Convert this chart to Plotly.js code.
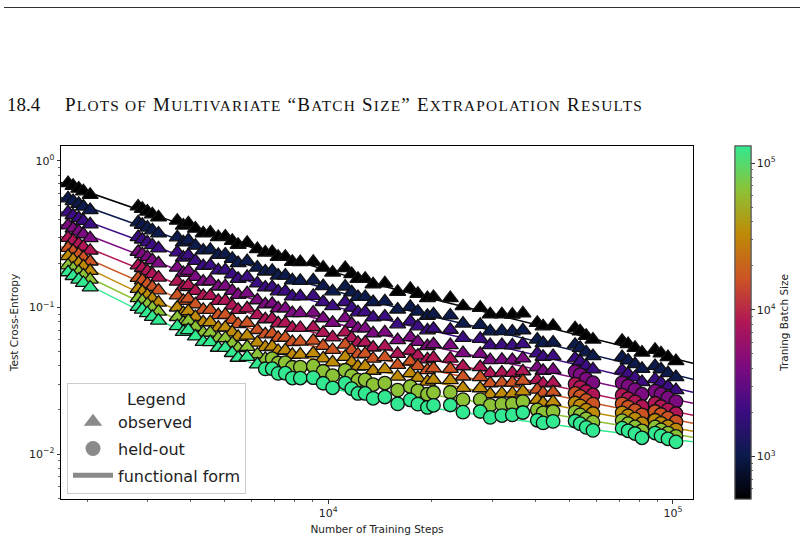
<!DOCTYPE html>
<html><head><meta charset="utf-8">
<script src="https://cdn.plot.ly/plotly-3.0.1.min.js"></script>
<style>
html,body{margin:0;padding:0;background:#fff;}
#wrap{position:relative;width:804px;height:543px;overflow:hidden;background:#fff;}
#chart{position:absolute;left:0;top:0;width:804px;height:543px;}
#rule{position:absolute;left:4px;top:7px;width:796px;height:1.3px;background:#333;}
.hd{position:absolute;top:95px;font-family:"Liberation Serif","Times New Roman",serif;font-size:19px;line-height:19px;color:#111;white-space:nowrap;}
.hd .sc{font-size:15.3px;}
</style></head><body>
<div id="wrap"><div id="chart"></div><div id="rule"></div>
<div class="hd" id="hnum" style="left:7px">18.4</div>
<div class="hd" id="htxt" style="left:65px">P<span class="sc">LOTS OF</span> M<span class="sc">ULTIVARIATE</span> “B<span class="sc">ATCH</span> S<span class="sc">IZE</span>” E<span class="sc">XTRAPOLATION</span> R<span class="sc">ESULTS</span></div>
</div>
<script>
// ---------------- data ----------------
const batchSizes = [512, 1024, 2048, 4096, 8192, 16384, 32768, 65536, 131072];

const steps = [1760, 1820, 1890, 1950, 2040, 2810, 2890, 2990, 3090, 3220,
  3650, 3800, 3930, 4120, 4340, 4550, 4800, 5030, 5270, 5480,
  5820, 6230, 6570, 6880, 7160, 7510, 7870, 8300, 9050, 9670,
  10300, 11200, 11700, 12200, 12800, 13500, 14600, 15900, 17300, 18200,
  19400, 20200, 22600, 24600, 27600, 29500, 31900, 34200, 36700, 40400,
  42000, 44900, 52000, 53800, 56000, 58600, 71200, 74100, 77600, 81300,
  88700, 92300, 96700, 102000];

const loss512 = [0.705, 0.676, 0.647, 0.620, 0.587, 0.489, 0.471, 0.451, 0.432, 0.412,
  0.391, 0.362, 0.375, 0.345, 0.321, 0.324, 0.302, 0.305, 0.285, 0.268,
  0.276, 0.250, 0.237, 0.239, 0.222, 0.222, 0.205, 0.204, 0.205, 0.187,
  0.173, 0.186, 0.169, 0.157, 0.157, 0.144, 0.146, 0.128, 0.134, 0.124,
  0.116, 0.118, 0.116, 0.102, 0.0995, 0.0899, 0.0899, 0.0893, 0.0911, 0.0785,
  0.0744, 0.0750, 0.0722, 0.0687, 0.0640, 0.0604, 0.0593, 0.0562, 0.0530, 0.0492,
  0.0514, 0.0486, 0.0459, 0.0431];
const loss1024 = [0.556, 0.532, 0.510, 0.488, 0.462, 0.381, 0.367, 0.351, 0.336, 0.320,
  0.301, 0.278, 0.288, 0.264, 0.245, 0.247, 0.229, 0.230, 0.215, 0.201,
  0.207, 0.187, 0.176, 0.178, 0.165, 0.165, 0.153, 0.152, 0.153, 0.140,
  0.129, 0.139, 0.127, 0.118, 0.118, 0.109, 0.110, 0.0969, 0.101, 0.0938,
  0.0878, 0.0899, 0.0882, 0.0777, 0.0762, 0.0688, 0.0689, 0.0685, 0.0699, 0.0604,
  0.0572, 0.0577, 0.0557, 0.0530, 0.0494, 0.0466, 0.0459, 0.0435, 0.0411, 0.0381,
  0.0399, 0.0378, 0.0357, 0.0335];
const loss2048 = [0.446, 0.426, 0.408, 0.390, 0.369, 0.302, 0.291, 0.278, 0.266, 0.253,
  0.238, 0.219, 0.227, 0.208, 0.192, 0.194, 0.179, 0.180, 0.168, 0.157,
  0.162, 0.146, 0.137, 0.138, 0.129, 0.129, 0.119, 0.119, 0.120, 0.109,
  0.102, 0.109, 0.0997, 0.0927, 0.0929, 0.0856, 0.0868, 0.0768, 0.0804, 0.0744,
  0.0698, 0.0716, 0.0705, 0.0620, 0.0611, 0.0553, 0.0554, 0.0551, 0.0563, 0.0486,
  0.0461, 0.0466, 0.0450, 0.0428, 0.0399, 0.0378, 0.0372, 0.0353, 0.0333, 0.0310,
  0.0324, 0.0307, 0.0290, 0.0273];
const loss4096 = [0.363, 0.346, 0.331, 0.316, 0.297, 0.240, 0.231, 0.221, 0.210, 0.200,
  0.187, 0.172, 0.178, 0.162, 0.150, 0.151, 0.139, 0.140, 0.130, 0.122,
  0.125, 0.112, 0.105, 0.106, 0.0986, 0.0987, 0.0916, 0.0914, 0.0922, 0.0844,
  0.0785, 0.0847, 0.0773, 0.0719, 0.0720, 0.0665, 0.0676, 0.0599, 0.0628, 0.0583,
  0.0546, 0.0561, 0.0553, 0.0488, 0.0482, 0.0437, 0.0439, 0.0438, 0.0449, 0.0390,
  0.0370, 0.0375, 0.0365, 0.0348, 0.0325, 0.0307, 0.0306, 0.0291, 0.0275, 0.0256,
  0.0269, 0.0256, 0.0242, 0.0228];
const loss8192 = [0.299, 0.286, 0.272, 0.259, 0.244, 0.194, 0.186, 0.177, 0.169, 0.160,
  0.150, 0.138, 0.142, 0.130, 0.120, 0.120, 0.111, 0.111, 0.103, 0.0964,
  0.0987, 0.0886, 0.0831, 0.0837, 0.0780, 0.0783, 0.0726, 0.0725, 0.0733, 0.0672,
  0.0625, 0.0676, 0.0618, 0.0575, 0.0577, 0.0533, 0.0543, 0.0482, 0.0507, 0.0470,
  0.0442, 0.0453, 0.0448, 0.0397, 0.0392, 0.0356, 0.0359, 0.0358, 0.0367, 0.0319,
  0.0303, 0.0307, 0.0300, 0.0285, 0.0267, 0.0253, 0.0252, 0.0239, 0.0227, 0.0211,
  0.0222, 0.0211, 0.0200, 0.0189];
const loss16384 = [0.255, 0.243, 0.230, 0.219, 0.206, 0.159, 0.153, 0.145, 0.138, 0.131,
  0.121, 0.111, 0.115, 0.105, 0.0963, 0.0964, 0.0888, 0.0890, 0.0824, 0.0769,
  0.0785, 0.0702, 0.0656, 0.0663, 0.0620, 0.0623, 0.0581, 0.0584, 0.0594, 0.0547,
  0.0513, 0.0558, 0.0512, 0.0478, 0.0482, 0.0447, 0.0458, 0.0406, 0.0428, 0.0398,
  0.0374, 0.0384, 0.0381, 0.0338, 0.0335, 0.0304, 0.0307, 0.0307, 0.0316, 0.0275,
  0.0261, 0.0265, 0.0259, 0.0247, 0.0232, 0.0219, 0.0220, 0.0209, 0.0198, 0.0185,
  0.0195, 0.0186, 0.0176, 0.0166];
const loss32768 = [0.224, 0.212, 0.201, 0.191, 0.178, 0.134, 0.128, 0.121, 0.115, 0.108,
  0.100, 0.0917, 0.0945, 0.0861, 0.0793, 0.0794, 0.0729, 0.0730, 0.0676, 0.0630,
  0.0642, 0.0575, 0.0536, 0.0540, 0.0505, 0.0510, 0.0475, 0.0477, 0.0487, 0.0450,
  0.0422, 0.0460, 0.0422, 0.0395, 0.0398, 0.0370, 0.0379, 0.0337, 0.0356, 0.0331,
  0.0312, 0.0321, 0.0319, 0.0283, 0.0281, 0.0256, 0.0259, 0.0259, 0.0268, 0.0234,
  0.0223, 0.0227, 0.0223, 0.0213, 0.0199, 0.0189, 0.0191, 0.0182, 0.0173, 0.0161,
  0.0170, 0.0162, 0.0154, 0.0146];
const loss65536 = [0.194, 0.184, 0.175, 0.166, 0.155, 0.116, 0.111, 0.105, 0.0995, 0.0938,
  0.0861, 0.0788, 0.0810, 0.0736, 0.0674, 0.0673, 0.0618, 0.0617, 0.0569, 0.0529,
  0.0538, 0.0478, 0.0446, 0.0447, 0.0418, 0.0420, 0.0391, 0.0392, 0.0399, 0.0367,
  0.0343, 0.0373, 0.0342, 0.0319, 0.0321, 0.0298, 0.0305, 0.0273, 0.0289, 0.0270,
  0.0256, 0.0263, 0.0264, 0.0235, 0.0235, 0.0215, 0.0219, 0.0220, 0.0228, 0.0200,
  0.0191, 0.0195, 0.0193, 0.0185, 0.0174, 0.0165, 0.0169, 0.0161, 0.0153, 0.0144,
  0.0153, 0.0146, 0.0139, 0.0132];
const loss131072 = [0.174, 0.164, 0.155, 0.147, 0.137, 0.101, 0.0966, 0.0914, 0.0864, 0.0813,
  0.0746, 0.0681, 0.0700, 0.0635, 0.0582, 0.0580, 0.0531, 0.0530, 0.0489, 0.0454,
  0.0460, 0.0409, 0.0381, 0.0382, 0.0355, 0.0356, 0.0330, 0.0330, 0.0332, 0.0304,
  0.0283, 0.0305, 0.0279, 0.0259, 0.0259, 0.0240, 0.0245, 0.0220, 0.0234, 0.0219,
  0.0208, 0.0215, 0.0216, 0.0193, 0.0195, 0.0178, 0.0183, 0.0185, 0.0192, 0.0170,
  0.0163, 0.0167, 0.0168, 0.0161, 0.0152, 0.0145, 0.0150, 0.0144, 0.0138, 0.0129,
  0.0139, 0.0133, 0.0127, 0.0121];

// index in `steps` from which each batch size's points are held out
const heldOutFrom = [64, 64, 64, 52, 52, 52, 52, 23, 22];

// fitted functional form, sampled along the curves
const fitSteps = [1672, 3153, 6790, 14150, 29480, 114300];
const fit512    = [0.714, 0.425, 0.234, 0.142, 0.0913, 0.0416];
const fit1024   = [0.564, 0.331, 0.174, 0.107, 0.0699, 0.0324];
const fit2048   = [0.452, 0.261, 0.135, 0.0844, 0.0561, 0.0264];
const fit4096   = [0.369, 0.207, 0.1035, 0.0656, 0.0443, 0.0222];
const fit8192   = [0.306, 0.166, 0.0818, 0.0527, 0.0362, 0.0184];
const fit16384  = [0.261, 0.135, 0.0646, 0.0443, 0.0309, 0.0162];
const fit32768  = [0.230, 0.112, 0.0527, 0.0367, 0.0260, 0.0143];
const fit65536  = [0.200, 0.0972, 0.0437, 0.0295, 0.0219, 0.0130];
const fit131072 = [0.179, 0.0844, 0.0373, 0.0237, 0.0181, 0.0121];

// tick labels
const xTickVals = [1e4, 1e5];
const xTickText = ['10<sup>4</sup>', '10<sup>5</sup>'];
const yTickVals = [0.01, 0.1, 1];
const yTickText = ['10<sup>−2</sup>', '10<sup>−1</sup>', '10<sup>0</sup>'];
const cbTickVals = [1e3, 1e4, 1e5];
const cbTickText = ['10<sup>3</sup>', '10<sup>4</sup>', '10<sup>5</sup>'];
const legendLabels = ['observed', 'held-out', 'functional form'];
const xTitle = 'Number of Training Steps';
const yTitle = 'Test Cross-Entropy';
const cbTitle = 'Traning Batch Size';

// ---------------- heading fit ----------------
(function(){
  const el = document.getElementById('htxt');
  const target = 578;
  const w = el.getBoundingClientRect().width;
  const n = el.textContent.length;
  el.style.letterSpacing = ((target - w) / n).toFixed(3) + 'px';
})();

// ---------------- styling / building ----------------
const lossRows = [loss512, loss1024, loss2048, loss4096, loss8192, loss16384, loss32768, loss65536, loss131072];
const fitRows = [fit512, fit1024, fit2048, fit4096, fit8192, fit16384, fit32768, fit65536, fit131072];

const colorscale = [
  [0.000, '#000000'],
  [0.125, '#0c1a4c'],
  [0.250, '#3c0c82'],
  [0.375, '#7c0a80'],
  [0.500, '#b01656'],
  [0.625, '#cc5424'],
  [0.750, '#bf8a06'],
  [0.875, '#8cc236'],
  [1.000, '#32e890']
];
const cmin = Math.log10(batchSizes[0]);
const cmax = Math.log10(batchSizes[batchSizes.length - 1]);

function hexToRgb(h){ return [parseInt(h.slice(1,3),16), parseInt(h.slice(3,5),16), parseInt(h.slice(5,7),16)]; }
function colorAt(v){
  const t = (v - cmin) / (cmax - cmin);
  for (let k = 1; k < colorscale.length; k++) {
    if (t <= colorscale[k][0] + 1e-9) {
      const a = colorscale[k-1], b = colorscale[k];
      const f = (t - a[0]) / (b[0] - a[0]);
      const ca = hexToRgb(a[1]), cb = hexToRgb(b[1]);
      const c = ca.map((x, j) => Math.round(x + (cb[j] - x) * f));
      return 'rgb(' + c.join(',') + ')';
    }
  }
  return colorscale[colorscale.length-1][1];
}

function logTicks(lo, hi){ const out=[]; for(let e=lo;e<=hi;e++){ for(let m=2;m<=9;m++) out.push(m*Math.pow(10,e)); } return out; }
const xMinor = logTicks(3, 4).filter(v => v >= 1679 && v <= 114300);
const yMinor = logTicks(-3, -1).filter(v => v >= 0.0049 && v <= 1.26);
const cbMinor = logTicks(2, 4).filter(v => v >= 512 && v <= 131072);

const cbCommon = {
  thickness: 16, len: 1, lenmode: 'fraction', y: 0.5, yanchor: 'middle', ypad: 0,
  x: 1.0665, xanchor: 'left', xpad: 0, outlinewidth: 1, outlinecolor: '#555',
  tickmode: 'array', ticks: 'outside', tickcolor: '#000'
};
const cbMajor = Object.assign({}, cbCommon, {
  tickvals: cbTickVals.map(Math.log10), ticktext: cbTickText, ticklen: 3.5, tickwidth: 0.8,
  tickfont: {family: 'DejaVu Sans', size: 11, color: '#222'},
  title: {text: cbTitle, side: 'right', font: {family: 'DejaVu Sans', size: 10.5, color: '#222'}}
});
const cbMinorCfg = Object.assign({}, cbCommon, {
  tickvals: cbMinor.map(Math.log10), ticklen: 2, tickwidth: 0.6, showticklabels: false
});

const traces = [];
// functional-form curves
fitRows.forEach((row, i) => {
  traces.push({
    x: fitSteps, y: row, mode: 'lines', type: 'scatter',
    line: {color: colorAt(Math.log10(batchSizes[i])), width: 1.5, shape: 'spline', smoothing: 1},
    showlegend: false, hoverinfo: 'skip'
  });
});
// observed / held-out markers
lossRows.forEach((row, i) => {
  const cv = Math.log10(batchSizes[i]);
  const h = heldOutFrom[i];
  const obsX = steps.slice(0, h), obsY = row.slice(0, h);
  const heldX = steps.slice(h), heldY = row.slice(h);
  traces.push({
    x: obsX, y: obsY, mode: 'markers', type: 'scatter', showlegend: false, hoverinfo: 'skip',
    marker: {symbol: 'triangle-up', size: 14, color: obsX.map(() => cv), colorscale: colorscale,
      cmin: cmin, cmax: cmax, line: {color: '#111', width: 1.3},
      showscale: i === 0, colorbar: cbMinorCfg}
  });
  traces.push({
    x: heldX, y: heldY, mode: 'markers', type: 'scatter', showlegend: false, hoverinfo: 'skip',
    marker: {symbol: 'circle', size: 13.5, color: heldX.map(() => cv), colorscale: colorscale,
      cmin: cmin, cmax: cmax, line: {color: '#111', width: 1.3},
      showscale: i === lossRows.length - 1, colorbar: cbMajor}
  });
});
// legend entries
traces.push({x: [null], y: [null], mode: 'markers', type: 'scatter', name: legendLabels[0], legendgroup: 'a',
  marker: {symbol: 'triangle-up', size: 16, color: '#8a8a8a'}});
traces.push({x: [null], y: [null], mode: 'markers', type: 'scatter', name: legendLabels[1], legendgroup: 'b',
  marker: {symbol: 'circle', size: 15, color: '#8a8a8a'}});
traces.push({x: [null], y: [null], mode: 'lines', type: 'scatter', name: legendLabels[2], legendgroup: 'c',
  line: {color: '#8a8a8a', width: 5}});

const axisCommon = {
  type: 'log', tickmode: 'array', ticks: 'outside', ticklen: 3.5, tickwidth: 0.8, tickcolor: '#000',
  showgrid: false, zeroline: false, showline: true, linecolor: '#000', linewidth: 1, mirror: true,
  tickfont: {family: 'DejaVu Sans', size: 11, color: '#222'}
};
const layout = {
  width: 804, height: 543,
  margin: {l: 61, r: 111, t: 146, b: 44},
  paper_bgcolor: 'rgba(0,0,0,0)', plot_bgcolor: '#fff',
  font: {family: 'DejaVu Sans', size: 11, color: '#222'},
  xaxis: Object.assign({}, axisCommon, {
    range: [Math.log10(1679), Math.log10(114300)], tickvals: xTickVals, ticktext: xTickText,
    minor: {tickmode: 'array', tickvals: xMinor, ticks: 'outside', ticklen: 2, tickwidth: 0.6, tickcolor: '#000', showgrid: false},
    title: {text: xTitle, font: {family: 'DejaVu Sans', size: 10.5, color: '#222'}, standoff: 6}
  }),
  yaxis: Object.assign({}, axisCommon, {
    range: [-2.307, 0.102], tickvals: yTickVals, ticktext: yTickText,
    minor: {tickmode: 'array', tickvals: yMinor, ticks: 'outside', ticklen: 2, tickwidth: 0.6, tickcolor: '#000', showgrid: false},
    title: {text: yTitle, font: {family: 'DejaVu Sans', size: 10.5, color: '#222'}, standoff: 8}
  }),
  showlegend: true,
  legend: {
    x: 0.0095, y: 0.014, xanchor: 'left', yanchor: 'bottom',
    bgcolor: 'rgba(255,255,255,0.8)', bordercolor: '#cccccc', borderwidth: 1,
    font: {family: 'DejaVu Sans', size: 16, color: '#222'},
    title: {text: 'Legend', side: 'top center', font: {family: 'DejaVu Sans', size: 16, color: '#222'}},
    itemwidth: 40, tracegroupgap: 3
  }
};
Plotly.newPlot('chart', traces, layout, {staticPlot: true, displayModeBar: false});
</script>
</body></html>
